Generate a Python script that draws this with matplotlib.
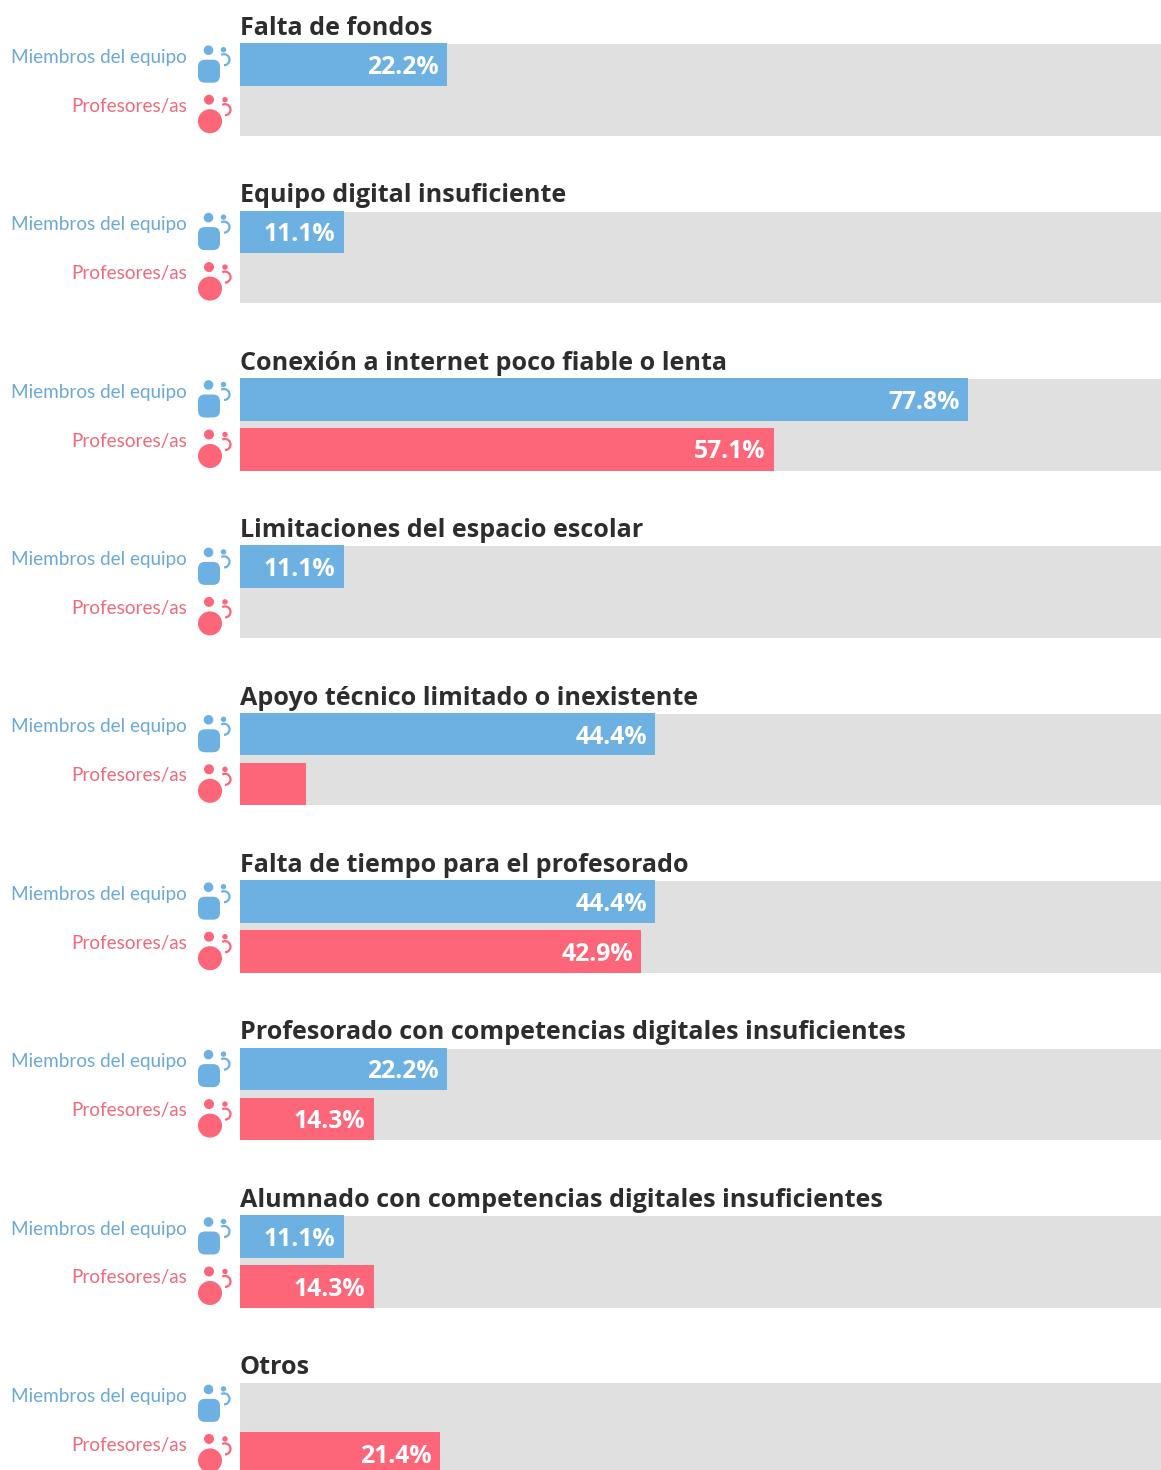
import matplotlib
matplotlib.use("Agg")
import matplotlib.pyplot as plt
from matplotlib.patches import Circle, FancyBboxPatch, Arc

categories = ["Falta de fondos", "Equipo digital insuficiente",
              "Conexión a internet poco fiable o lenta", "Limitaciones del espacio escolar",
              "Apoyo técnico limitado o inexistente", "Falta de tiempo para el profesorado",
              "Profesorado con competencias digitales insuficientes",
              "Alumnado con competencias digitales insuficientes", "Otros"]
team_values = [22.2, 11.1, 77.8, 11.1, 44.4, 44.4, 22.2, 11.1, 0]
teacher_values = [0, 0, 57.1, 0, 7.1, 42.9, 14.3, 14.3, 21.4]
show_teacher_label = [False, False, True, False, False, True, True, True, True]
series_names = ["Miembros del equipo", "Profesores/as"]

W, H = 1161, 1470
BLUE, RED, GREY = "#6cb1e1", "#fd6579", "#e0e0e0"
BLUE_T, RED_T = "#6aa9d6", "#ee6a7c"
BOLD = "Open Sans"
LABEL = "Lato"
plt.rcParams["font.family"] = [BOLD, "DejaVu Sans"]

fig = plt.figure(figsize=(W / 100, H / 100), dpi=100, facecolor="white")
ov = fig.add_axes([0, 0, 1, 1], zorder=5)
ov.set_xlim(0, W); ov.set_ylim(H, 0); ov.axis("off"); ov.patch.set_alpha(0)

PITCH = 167.4
SCALE = 9.36
for i, cat in enumerate(categories):
    top = 43.2 + PITCH * i
    ax = fig.add_axes([239.7 / W, 1 - (top + 92.5) / H, (W - 239.7) / W, 92.5 / H])
    ax.set_xlim(0, (W - 239.7) / SCALE)
    ax.set_ylim(92.5, 0)
    ax.set_facecolor("white")
    ax.axis("off")
    ax.barh(46.75, 200, height=91.5, color=GREY, linewidth=0)
    ax.barh(21.25, team_values[i], height=42.5, color=BLUE, linewidth=0)
    ax.barh(71.25, teacher_values[i], height=42.5, color=RED, linewidth=0, clip_on=False)
    if team_values[i] > 0:
        ax.text(team_values[i] - 0.9, 24.2, f"{team_values[i]:.1f}%", color="white",
                fontsize=17.8, fontweight="bold", ha="right", va="center")
    if show_teacher_label[i]:
        ax.text(teacher_values[i] - 0.9, 74.0, f"{teacher_values[i]:.1f}%", color="white",
                fontsize=17.8, fontweight="bold", ha="right", va="center", clip_on=False)
    ov.text(239.5, top - 14.7, cat, color="#2d2d2d", fontsize=18.1, fontweight="bold",
            ha="left", va="center")
    ov.text(187, top + 14, series_names[0], color=BLUE_T, fontsize=13.6, ha="right",
            va="center", family=[LABEL, "DejaVu Sans"])
    ov.text(187, top + 63, series_names[1], color=RED_T, fontsize=13.6, ha="right",
            va="center", family=[LABEL, "DejaVu Sans"])
    # blue person icon
    ov.add_patch(Circle((208.5, top + 7), 4.8, color=BLUE, lw=0))
    ov.add_patch(Circle((223.5, top + 6.5), 2.7, color=BLUE, lw=0))
    ov.add_patch(FancyBboxPatch((203, top + 21.5), 12, 13, boxstyle="round,pad=5,rounding_size=7",
                                fc=BLUE, ec="none"))
    ov.add_patch(Arc((224, top + 16.5), 11, 11, theta1=-120, theta2=90, color=BLUE, lw=1.6))
    # red person icon
    ov.add_patch(Circle((209, top + 56.5), 5, color=RED, lw=0))
    ov.add_patch(Circle((225, top + 56.5), 2.7, color=RED, lw=0))
    ov.add_patch(Circle((210, top + 78), 12, color=RED, lw=0))
    ov.add_patch(Arc((225, top + 66.5), 11, 11, theta1=-120, theta2=90, color=RED, lw=1.6))

fig.savefig("out.png", dpi=100)
